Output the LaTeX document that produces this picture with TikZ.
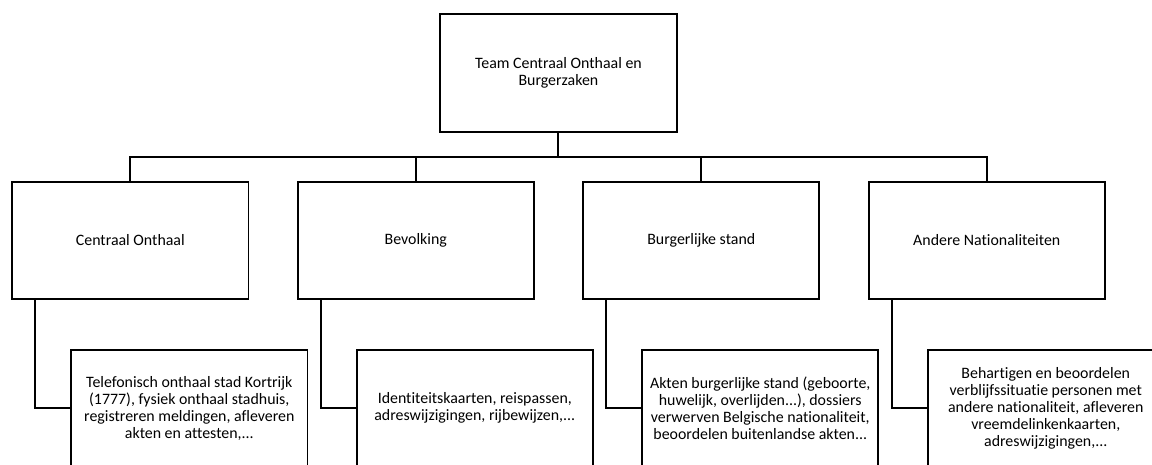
\documentclass[tikz,border=0pt]{standalone}
\usepackage{fontspec}
\setmainfont{Carlito}[Ligatures=NoCommon]
\usetikzlibrary{calc}
\usetikzlibrary{positioning}
\tikzset{
box/.style={rectangle,draw,black,line width=1.4pt,inner sep=0cm,anchor=center,
  align=center,minimum width=5.91cm,minimum height=2.935cm,
  font=\fontsize{11.3}{12.2}\selectfont},
line/.style={black,line width=1.4pt}
}

\begin{document}
\begin{tikzpicture}
    \newcommand{\colsep}{7.137cm}
    \path[use as bounding box, clip] (0,0) rectangle (28.8,-11.6);
    %
    \node[box](top) at (13.96, -1.821) {Team Centraal Onthaal en\\Burgerzaken};
    \coordinate (bus) at (0, -3.9175);
    %
    \node[box](co) at (3.2575, -6.009) {Centraal Onthaal};
    \node[box, right=\colsep of co.center, anchor=center](bev) {Bevolking};
    \node[box, right=\colsep of bev.center, anchor=center](bs) {Burgerlijke stand};
    \node[box, right=\colsep of bs.center, anchor=center](an) {Andere Nationaliteiten};
    %
    \node[box](d1) at ($(co) + (1.475, -4.197)$) {Telefonisch onthaal stad Kortrijk\\(1777), fysiek onthaal stadhuis,\\registreren meldingen, afleveren\\akten en attesten,...};
    \node[box](d2) at ($(bev) + (1.475, -4.197)$) {Identiteitskaarten, reispassen,\\adreswijzigingen, rijbewijzen,...};
    \node[box](d3) at ($(bs) + (1.475, -4.197)$) {Akten burgerlijke stand (geboorte,\\huwelijk, overlijden...), dossiers\\verwerven Belgische nationaliteit,\\beoordelen buitenlandse akten...};
    \node[box](d4) at ($(an) + (1.475, -4.197)$) {Behartigen en beoordelen\\verblijfssituatie personen met\\andere nationaliteit, afleveren\\vreemdelinkenkaarten,\\adreswijzigingen,...};
    %
    \foreach \v in {co,bev,bs,an}
    \draw[line] (top.south) -- (top.south |- bus) -| (\v.north);
    %
    \foreach \u / \v in {co/d1,bev/d2,bs/d3,an/d4}
    \draw[line] ([xshift=0.6cm]\u.south west) |- (\v.west);
\end{tikzpicture}
\end{document}
